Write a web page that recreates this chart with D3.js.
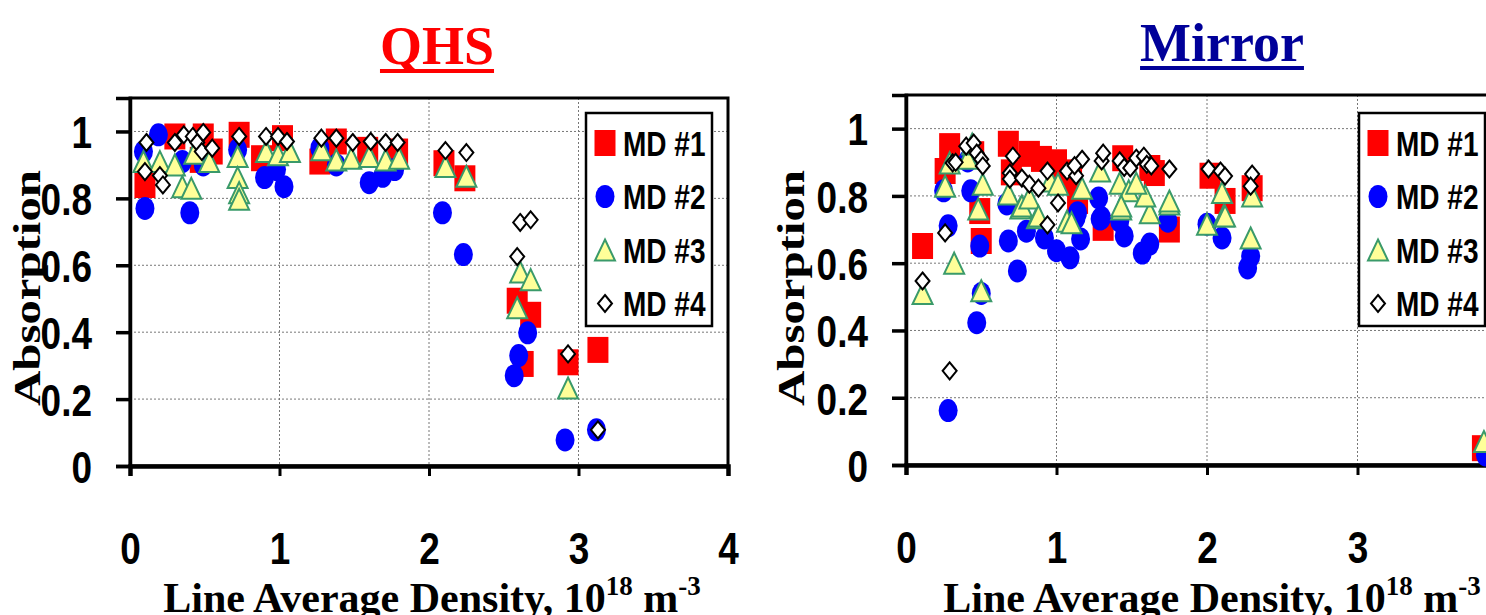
<!DOCTYPE html>
<html>
<head>
<meta charset="utf-8">
<script src="https://cdn.jsdelivr.net/npm/d3@7"></script>
<style>
  body { margin: 0; background: #fff; overflow: hidden; }
  svg { display: block; }
</style>
</head>
<body>
<svg id="chart" width="1486" height="615"></svg>
<script>
// ---- data: [density, absorption] ----
const qhsMd1 = [[0.10,0.84],[0.30,0.985],[0.49,0.985],[0.47,0.915],[0.55,0.94],[0.73,0.99],[0.88,0.92],[1.02,0.98],
  [1.27,0.91],[1.31,0.94],[1.38,0.97],[1.59,0.945],[1.79,0.94],[2.10,0.905],[2.24,0.86],[2.59,0.494],[2.68,0.452],
  [2.63,0.305],[2.93,0.31],[3.13,0.347]];
const qhsMd2 = [[0.09,0.94],[0.10,0.77],[0.19,0.99],[0.40,0.757],[0.35,0.91],[0.49,0.90],[0.72,0.945],[0.90,0.862],
  [1.03,0.835],[0.98,0.886],[1.27,0.95],[1.38,0.90],[1.60,0.847],[1.69,0.866],[1.77,0.886],[2.09,0.757],[2.23,0.632],
  [2.66,0.398],[2.60,0.33],[2.57,0.27],[2.91,0.078],[3.12,0.108]];
const qhsMd3 = [[0.09,0.91],[0.20,0.91],[0.30,0.90],[0.35,0.835],[0.41,0.83],[0.43,0.935],[0.53,0.91],[0.72,0.925],
  [0.72,0.862],[0.73,0.817],[0.73,0.797],[0.91,0.94],[0.99,0.93],[1.07,0.94],[1.28,0.945],[1.38,0.915],[1.48,0.92],
  [1.60,0.925],[1.71,0.915],[1.80,0.92],[2.11,0.895],[2.25,0.866],[2.61,0.58],[2.68,0.557],[2.59,0.473],[2.93,0.233]];
const qhsMd4 = [[0.11,0.967],[0.10,0.88],[0.20,0.868],[0.22,0.84],[0.30,0.967],[0.36,0.99],[0.42,0.985],[0.45,0.967],
  [0.49,0.997],[0.48,0.94],[0.55,0.95],[0.73,0.985],[0.91,0.985],[0.99,0.985],[1.05,0.97],[1.28,0.98],[1.38,0.98],
  [1.49,0.967],[1.61,0.97],[1.71,0.967],[1.79,0.967],[2.11,0.943],[2.25,0.937],[2.61,0.728],[2.68,0.736],[2.59,0.626],
  [2.93,0.335],[3.13,0.108]];

const mirrorMd1 = [[0.11,0.651],[0.29,0.948],[0.26,0.874],[0.45,0.924],[0.49,0.755],[0.50,0.666],[0.68,0.955],[0.70,0.87],
  [0.82,0.925],[0.90,0.91],[1.00,0.90],[1.05,0.87],[1.10,0.85],[1.14,0.785],[1.31,0.705],[1.44,0.912],[1.75,0.70],
  [1.62,0.883],[2.02,0.86],[2.12,0.785],[2.30,0.823],[1.65,0.868],[3.83,0.05]];
const mirrorMd2 = [[0.28,0.162],[0.47,0.423],[0.50,0.51],[0.49,0.651],[0.28,0.711],[0.74,0.577],[0.68,0.666],[0.80,0.695],
  [0.92,0.675],[1.00,0.637],[1.09,0.616],[1.16,0.672],[1.14,0.75],[1.29,0.731],[1.45,0.681],[1.57,0.63],[1.62,0.657],
  [1.74,0.725],[2.00,0.716],[2.10,0.675],[2.27,0.586],[2.29,0.62],[0.25,0.815],[0.43,0.815],[0.41,0.904],[0.67,0.776],
  [1.28,0.794],[1.30,0.735],[1.13,0.735],[1.42,0.725],[3.85,0.03]];
const mirrorMd3 = [[0.11,0.51],[0.32,0.60],[0.50,0.518],[0.48,0.761],[0.76,0.764],[0.87,0.735],[1.07,0.725],[1.10,0.72],
  [1.43,0.761],[1.62,0.75],[1.75,0.776],[2.00,0.716],[2.11,0.74],[2.29,0.675],[0.29,0.898],[0.26,0.829],[0.41,0.912],
  [0.44,0.954],[0.51,0.835],[0.68,0.806],[0.77,0.77],[0.82,0.794],[0.88,0.74],[0.96,0.844],[1.01,0.835],[1.17,0.823],
  [1.29,0.874],[1.42,0.838],[1.48,0.815],[1.59,0.80],[1.75,0.785],[1.43,0.77],[1.53,0.838],[2.10,0.81],[2.12,0.74],
  [2.30,0.80],[3.84,0.07]];
const mirrorMd4 = [[0.11,0.547],[0.26,0.69],[0.29,0.28],[0.94,0.714],[1.01,0.779],[0.31,0.898],[0.33,0.90],[0.40,0.948],
  [0.45,0.957],[0.47,0.927],[0.50,0.909],[0.51,0.889],[0.71,0.918],[0.69,0.868],[0.69,0.85],[0.77,0.853],[0.82,0.835],
  [0.88,0.823],[0.94,0.874],[1.07,0.874],[1.13,0.86],[1.17,0.909],[1.12,0.89],[1.30,0.904],[1.31,0.927],[1.42,0.904],
  [1.45,0.885],[1.49,0.883],[1.53,0.912],[1.58,0.918],[1.60,0.894],[1.63,0.889],[1.75,0.88],[2.01,0.88],[2.09,0.874],
  [2.12,0.859],[2.30,0.865],[2.29,0.829]];

const seriesNames = ['MD #1', 'MD #2', 'MD #3', 'MD #4'];
const qhsXTicks = [0, 1, 2, 3, 4];
const mirrorXTicks = [0, 1, 2, 3];
const yTicks = [0, 0.2, 0.4, 0.6, 0.8, 1];
const xGrid = [1, 2, 3, 4];
const yGrid = [0.2, 0.4, 0.6, 0.8, 1];

const svg = d3.select('#chart');
const sansBold = 'Liberation Sans, Arial, sans-serif';
const serifBold = 'Liberation Serif, Times New Roman, serif';

const markers = [
  { kind: 'square', w: 21, h: 26, fill: '#ff0000', stroke: 'none', sw: 0 },
  { kind: 'circle', w: 19, h: 23, fill: '#0000ff', stroke: 'none', sw: 0 },
  { kind: 'triangle', w: 20, h: 21, fill: '#ffff99', stroke: '#3a9a6a', sw: 2 },
  { kind: 'diamond', w: 14, h: 17, fill: '#ffffff', stroke: '#000000', sw: 2 }
];

function markerPath(m) {
  const w = m.w / 2, h = m.h / 2;
  if (m.kind === 'square') return `M${-w},${-h}H${w}V${h}H${-w}Z`;
  if (m.kind === 'circle') return `M${-w},0A${w},${h} 0 1 0 ${w},0A${w},${h} 0 1 0 ${-w},0Z`;
  if (m.kind === 'triangle') return `M0,${-h}L${w},${h}L${-w},${h}Z`;
  return `M0,${-h}L${w},0L0,${h}L${-w},0Z`;
}

function drawPanel(p) {
  const x = d3.scaleLinear().domain([0, 4]).range([p.left, p.right]);
  const y = d3.scaleLinear().domain([0, 1.1]).range([p.bottom, p.top]);
  const g = svg.append('g');

  // dotted grid
  g.append('g').selectAll('line').data(xGrid).join('line')
    .attr('x1', d => x(d)).attr('x2', d => x(d))
    .attr('y1', p.top).attr('y2', p.bottom)
    .attr('stroke', '#777').attr('stroke-width', 1).attr('stroke-dasharray', '2,2');
  g.append('g').selectAll('line').data(yGrid).join('line')
    .attr('x1', p.left).attr('x2', p.right)
    .attr('y1', d => y(d)).attr('y2', d => y(d))
    .attr('stroke', '#777').attr('stroke-width', 1).attr('stroke-dasharray', '2,2');

  // plot frame
  g.append('rect')
    .attr('x', p.left).attr('y', p.top)
    .attr('width', p.right - p.left).attr('height', p.bottom - p.top)
    .attr('fill', 'none').attr('stroke', '#000').attr('stroke-width', 3);

  // y axis
  const ya = g.append('g')
    .attr('transform', `translate(${p.left},0)`)
    .call(d3.axisLeft(y).tickValues(yTicks).tickSize(14).tickPadding(24).tickFormat(d => String(d)));
  ya.select('.domain').attr('stroke-width', 3.5);
  ya.selectAll('.tick line').attr('stroke-width', 3.5);
  ya.selectAll('.tick text')
    .attr('font-family', sansBold).attr('font-weight', 'bold').attr('font-size', 44)
    .attr('fill', '#000').attr('dy', '0.37em')
    .attr('transform', function () {
      const tx = +this.getAttribute('x');
      return `translate(${tx},0) scale(0.84,1)`;
    })
    .attr('x', 0);

  // x axis
  const xa = g.append('g')
    .attr('transform', `translate(0,${p.bottom})`)
    .call(d3.axisBottom(x).tickValues(p.xTicks).tickSize(10).tickFormat(d => String(d)));
  xa.select('.domain').attr('stroke-width', 4.5);
  xa.selectAll('.tick line').attr('stroke-width', 3);
  xa.selectAll('.tick text')
    .attr('font-family', sansBold).attr('font-weight', 'bold').attr('font-size', 44)
    .attr('fill', '#000').attr('dy', 0).attr('y', null)
    .attr('transform', 'translate(0,98) scale(0.84,1)');

  // points
  p.series.forEach((data, i) => {
    const m = markers[i];
    g.append('g').selectAll('path').data(data).join('path')
      .attr('d', markerPath(m))
      .attr('transform', d => `translate(${x(d[0])},${y(d[1])})`)
      .attr('fill', m.fill).attr('stroke', m.stroke).attr('stroke-width', m.sw);
  });

  // legend
  const lg = g.append('g').attr('transform', `translate(${p.legendX},113)`);
  lg.append('rect').attr('width', 126).attr('height', 213)
    .attr('fill', '#fff').attr('stroke', '#000').attr('stroke-width', 2.5);
  seriesNames.forEach((name, i) => {
    const yy = 30 + i * 53.5;
    lg.append('path').attr('d', markerPath(markers[i]))
      .attr('transform', `translate(19,${yy})`)
      .attr('fill', markers[i].fill).attr('stroke', markers[i].stroke).attr('stroke-width', markers[i].sw);
    lg.append('text').text(name)
      .attr('transform', `translate(37,${yy}) scale(0.8,1)`)
      .attr('dy', '0.36em')
      .attr('font-family', sansBold).attr('font-weight', 'bold').attr('font-size', 35);
  });

  // title with underline
  const t = svg.append('text').text(p.title)
    .attr('x', p.titleX).attr('y', p.titleY)
    .attr('text-anchor', 'middle')
    .attr('font-family', serifBold).attr('font-weight', 'bold').attr('font-size', 54)
    .attr('fill', p.titleColor);
  const tw = t.node().getComputedTextLength();
  svg.append('rect')
    .attr('x', p.titleX - tw / 2).attr('y', p.titleY + 5)
    .attr('width', tw).attr('height', 4).attr('fill', p.titleColor);

  // axis titles
  svg.append('text').text('Absorption')
    .attr('transform', `translate(${p.yTitleX},288) rotate(-90)`)
    .attr('text-anchor', 'middle')
    .attr('font-family', serifBold).attr('font-weight', 'bold').attr('font-size', 38)
    .attr('textLength', 236).attr('lengthAdjust', 'spacingAndGlyphs');

  const xt = svg.append('text')
    .attr('x', p.xTitleX).attr('y', 612)
    .attr('text-anchor', 'middle')
    .attr('font-family', serifBold).attr('font-weight', 'bold').attr('font-size', 42);
  xt.append('tspan').text('Line Average Density, 10');
  xt.append('tspan').text('18').attr('font-size', 27).attr('dy', -17);
  xt.append('tspan').text(' m').attr('dy', 17);
  xt.append('tspan').text('-3').attr('font-size', 27).attr('dy', -17);
}

drawPanel({
  left: 130, right: 728, top: 98, bottom: 466,
  series: [qhsMd1, qhsMd2, qhsMd3, qhsMd4],
  xTicks: qhsXTicks,
  legendX: 586,
  title: 'QHS', titleColor: '#ff0000', titleX: 437, titleY: 64,
  yTitleX: 40, xTitleX: 432
});

drawPanel({
  left: 906, right: 1508, top: 95, bottom: 465,
  series: [mirrorMd1, mirrorMd2, mirrorMd3, mirrorMd4],
  xTicks: mirrorXTicks,
  legendX: 1359,
  title: 'Mirror', titleColor: '#000099', titleX: 1222, titleY: 61,
  yTitleX: 804, xTitleX: 1212
});
</script>
</body>
</html>
